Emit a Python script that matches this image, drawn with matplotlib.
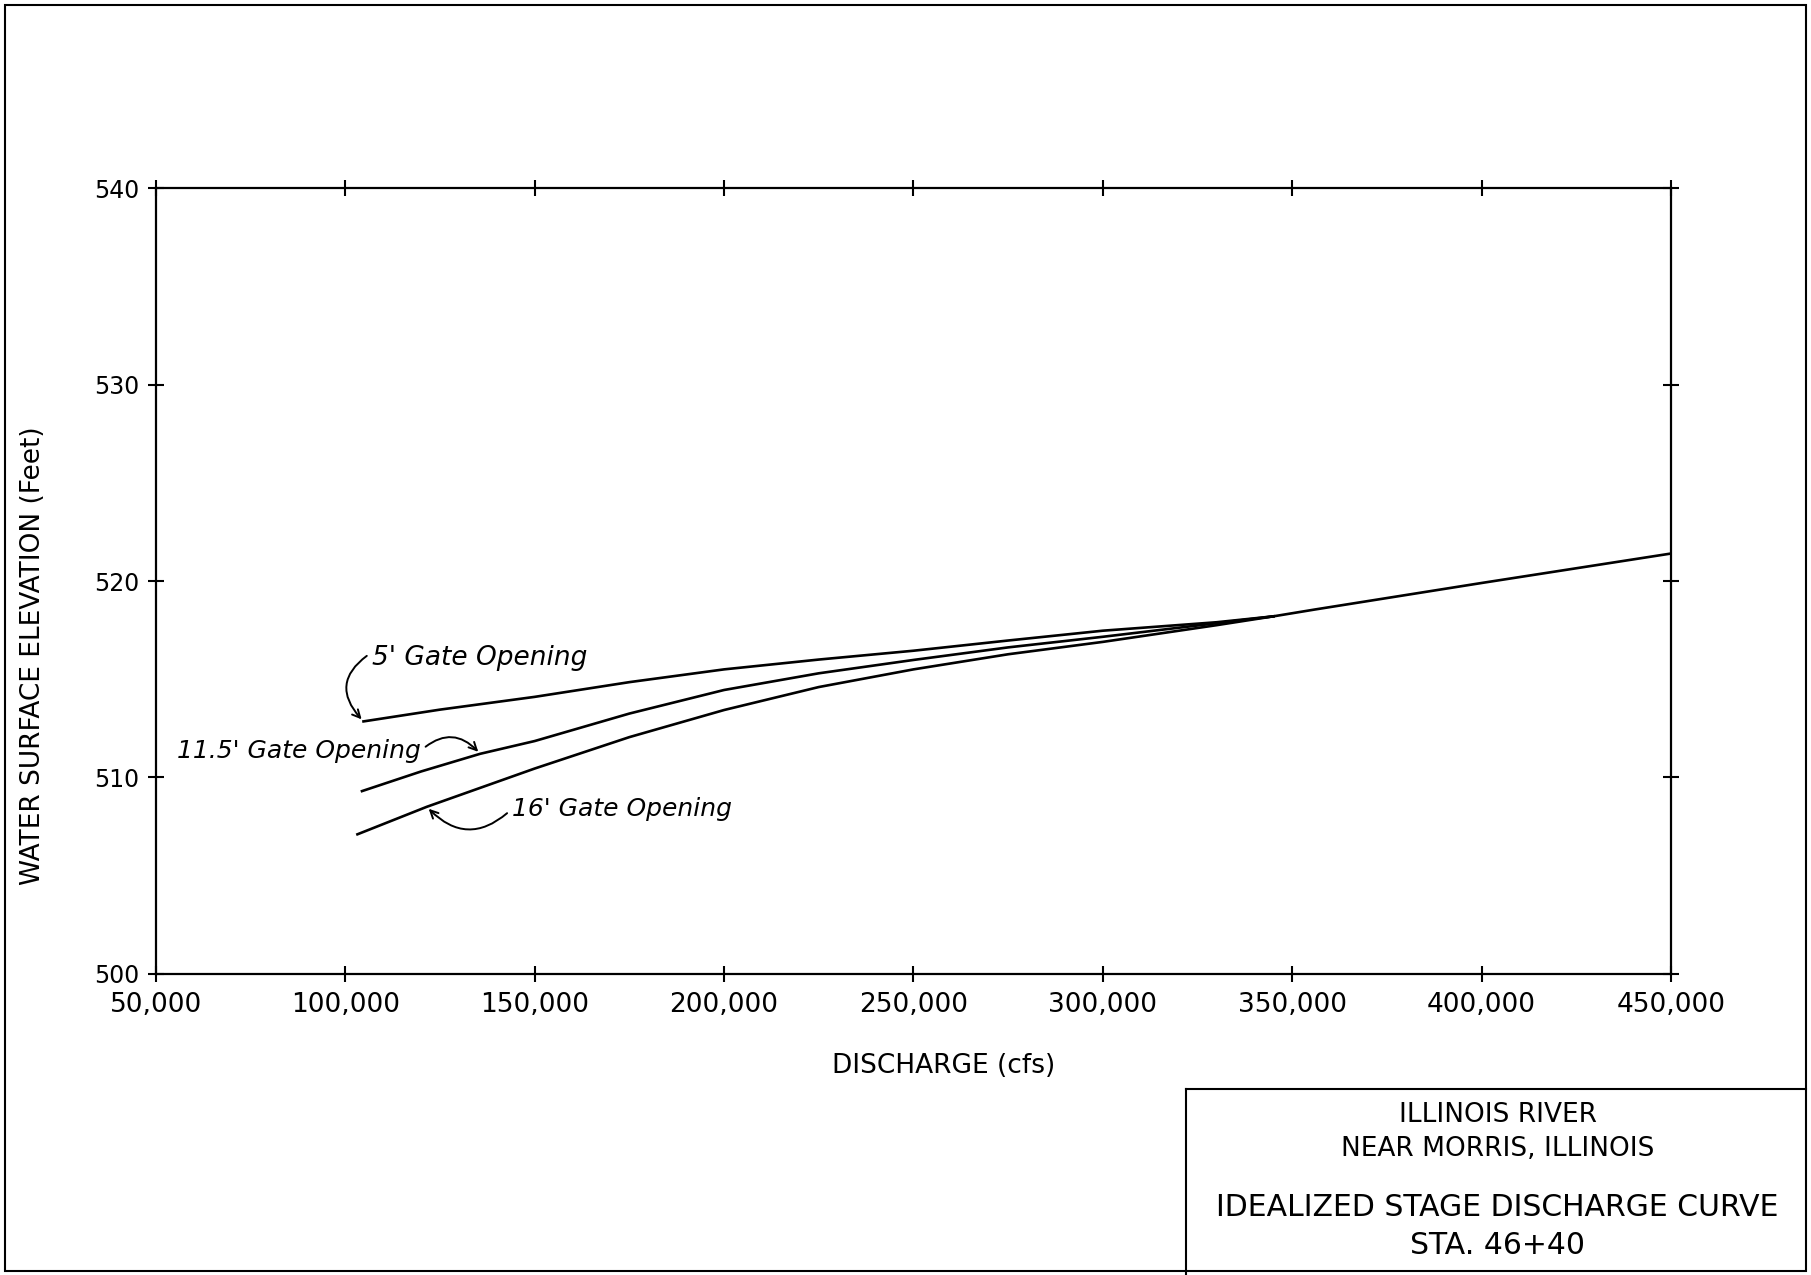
import matplotlib
matplotlib.use("Agg")
import matplotlib.pyplot as plt
from matplotlib.ticker import FuncFormatter

# discharge (cfs) / water surface elevation (ft)
q_5 = [104800, 125000, 150000, 175000, 200000, 225000, 250000, 275000, 300000, 330000, 345000]
e_5 = [512.85, 513.45, 514.1, 514.85, 515.5, 516.0, 516.45, 516.97, 517.47, 517.9, 518.2]

q_115 = [104400, 120000, 135600, 150000, 175000, 200000, 225000, 250000, 275000, 300000, 330000, 345000]
e_115 = [509.3, 510.3, 511.2, 511.85, 513.25, 514.45, 515.3, 515.98, 516.62, 517.16, 517.85, 518.2]

q_16 = [103200, 121500, 150000, 175000, 200000, 225000, 250000, 275000, 300000, 330000, 345000]
e_16 = [507.1, 508.5, 510.45, 512.05, 513.43, 514.6, 515.5, 516.27, 516.9, 517.75, 518.2]

q_common = [345000, 356000, 400000, 450000]
e_common = [518.2, 518.55, 519.9, 521.4]

x_ticks = [50000, 100000, 150000, 200000, 250000, 300000, 350000, 400000, 450000]
y_ticks = [500, 510, 520, 530, 540]

title_lines = ["ILLINOIS RIVER", "NEAR MORRIS, ILLINOIS", "IDEALIZED STAGE DISCHARGE CURVE", "STA. 46+40"]

plt.rcParams['font.family'] = ['DejaVu Sans']

fig = plt.figure(figsize=(18.11, 12.75), dpi=100)
ax = fig.add_axes([0.0861, 0.2363, 0.9227 - 0.0861, 0.8523 - 0.2363])

lw = 1.9
ax.plot(q_5, e_5, color='black', lw=lw)
ax.plot(q_115, e_115, color='black', lw=lw)
ax.plot(q_16, e_16, color='black', lw=lw)
ax.plot(q_common, e_common, color='black', lw=lw)

ax.set_xlim(50000, 450000)
ax.set_ylim(500, 540)
ax.set_xticks(x_ticks)
ax.set_yticks(y_ticks)
ax.xaxis.set_major_formatter(FuncFormatter(lambda v, p: f"{int(v):,}"))
ax.tick_params(direction='inout', top=True, right=True, length=12, width=1.5)
ax.tick_params(axis='x', pad=7, labelsize=19)
ax.tick_params(axis='y', pad=6, labelsize=17)
for s in ax.spines.values():
    s.set_linewidth(1.6)

ax.set_xlabel("DISCHARGE (cfs)", fontsize=19)
ax.set_ylabel("WATER SURFACE ELEVATION (Feet)", fontsize=19)
ax.xaxis.set_label_coords(0.52, -0.1015)
ax.yaxis.set_label_coords(-0.0726, 0.405)

arrow_kw = dict(arrowstyle='->', color='black', lw=1.4, mutation_scale=14)
ax.annotate("5' Gate Opening", xy=(q_5[0], e_5[0]), xytext=(107000, 516.1),
            fontsize=19, style='italic', va='center', ha='left',
            arrowprops=dict(relpos=(0, 0.7), connectionstyle="arc3,rad=0.6", **arrow_kw))
ax.annotate("11.5' Gate Opening", xy=(135600, 511.2), xytext=(55500, 511.35),
            fontsize=18, style='italic', va='center', ha='left',
            arrowprops=dict(relpos=(1, 0.5), connectionstyle="arc3,rad=-0.5", **arrow_kw))
ax.annotate("16' Gate Opening", xy=(121500, 508.5), xytext=(144000, 508.4),
            fontsize=18, style='italic', va='center', ha='left',
            arrowprops=dict(relpos=(0, 0.5), connectionstyle="arc3,rad=-0.5", **arrow_kw))

# drawing border and title block
fig.add_artist(plt.Rectangle((0.003, 0.003), 0.994, 0.993, transform=fig.transFigure,
                             fill=False, lw=1.5, color='black'))
fig.add_artist(plt.Line2D([0.655, 0.655], [0.0, 0.146], transform=fig.transFigure,
                          color='black', lw=1.5))
fig.add_artist(plt.Line2D([0.655, 0.997], [0.146, 0.146], transform=fig.transFigure,
                          color='black', lw=1.5))
fig.text(0.827, 0.1258, title_lines[0], ha='center', va='center', fontsize=19)
fig.text(0.827, 0.0988, title_lines[1], ha='center', va='center', fontsize=19)
fig.text(0.827, 0.0533, title_lines[2], ha='center', va='center', fontsize=21.5)
fig.text(0.827, 0.0235, title_lines[3], ha='center', va='center', fontsize=21.5)

fig.savefig("out.png", dpi=100)
